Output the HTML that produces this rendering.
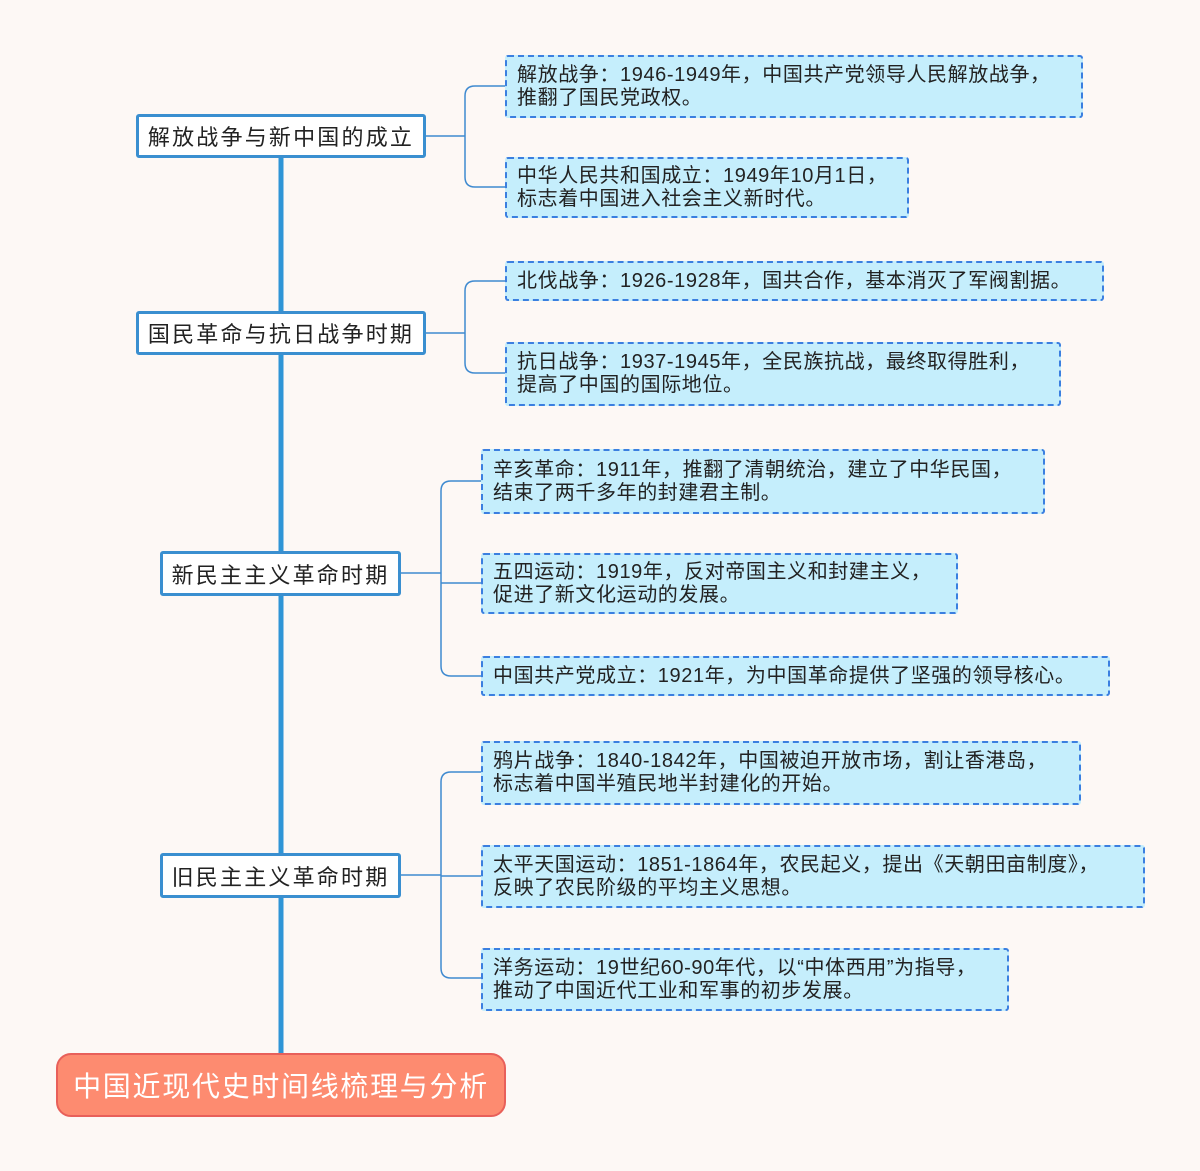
<!DOCTYPE html>
<html><head><meta charset="utf-8"><style>
body{margin:0;width:1200px;height:1171px;background:#fdf8f5;position:relative;overflow:hidden;font-family:"Liberation Sans","Noto Sans CJK SC",sans-serif}
.n{position:absolute;box-sizing:border-box;border:3px solid #3a8fd0;background:#fff;border-radius:3px;font-size:22px;color:#222;display:flex;align-items:center;justify-content:center;letter-spacing:2.2px}
.l{position:absolute;box-sizing:border-box;border:2px dashed #3b7fe0;background:#c5eefc;border-radius:3px;font-size:20px;letter-spacing:0.6px;color:#222;line-height:23px;padding:0 0 0 10px;display:flex;flex-direction:column;justify-content:center;white-space:nowrap}
.r{position:absolute;left:56px;top:1053px;width:450px;height:64px;box-sizing:border-box;background:#fd8b70;border:2px solid #e8605a;border-radius:15px;color:#fff;font-size:28px;letter-spacing:1.7px;display:flex;align-items:center;justify-content:center}
</style></head><body>
<svg width="1200" height="1171" style="position:absolute;left:0;top:0">
<line x1="281" y1="157" x2="281" y2="1053" stroke="#2f95d6" stroke-width="5"/>
<g fill="none" stroke="#3f8ad0" stroke-width="1.5">
<path d="M425 136H465M505 86H475Q465 86 465 96V177Q465 187 475 187H505"/>
<path d="M425 333H465M505 281H475Q465 281 465 291V363Q465 373 475 373H505"/>
<path d="M400 573H441M481 481H451Q441 481 441 491V666Q441 676 451 676H481M441 583H481"/>
<path d="M400 875H441M481 772H451Q441 772 441 782V968Q441 978 451 978H481M441 876H481"/>
</g></svg>
<div class="n" style="left:136px;top:114px;width:290px;height:44px">解放战争与新中国的成立</div>
<div class="n" style="left:136px;top:311px;width:290px;height:44px">国民革命与抗日战争时期</div>
<div class="n" style="left:160px;top:551px;width:241px;height:45px">新民主主义革命时期</div>
<div class="n" style="left:160px;top:853px;width:241px;height:45px">旧民主主义革命时期</div>
<div class="r">中国近现代史时间线梳理与分析</div>
<div class="l" style="left:505px;top:55px;width:578px;height:63px"><div>解放战争：1946-1949年，中国共产党领导人民解放战争，</div><div>推翻了国民党政权。</div></div>
<div class="l" style="left:505px;top:157px;width:404px;height:61px"><div>中华人民共和国成立：1949年10月1日，</div><div>标志着中国进入社会主义新时代。</div></div>
<div class="l" style="left:505px;top:261px;width:599px;height:40px"><div>北伐战争：1926-1928年，国共合作，基本消灭了军阀割据。</div></div>
<div class="l" style="left:505px;top:342px;width:556px;height:64px"><div>抗日战争：1937-1945年，全民族抗战，最终取得胜利，</div><div>提高了中国的国际地位。</div></div>
<div class="l" style="left:481px;top:449px;width:564px;height:65px"><div>辛亥革命：1911年，推翻了清朝统治，建立了中华民国，</div><div>结束了两千多年的封建君主制。</div></div>
<div class="l" style="left:481px;top:553px;width:477px;height:61px"><div>五四运动：1919年，反对帝国主义和封建主义，</div><div>促进了新文化运动的发展。</div></div>
<div class="l" style="left:481px;top:656px;width:629px;height:40px"><div>中国共产党成立：1921年，为中国革命提供了坚强的领导核心。</div></div>
<div class="l" style="left:481px;top:741px;width:600px;height:64px"><div>鸦片战争：1840-1842年，中国被迫开放市场，割让香港岛，</div><div>标志着中国半殖民地半封建化的开始。</div></div>
<div class="l" style="left:481px;top:845px;width:664px;height:63px"><div>太平天国运动：1851-1864年，农民起义，提出《天朝田亩制度》，</div><div>反映了农民阶级的平均主义思想。</div></div>
<div class="l" style="left:481px;top:948px;width:528px;height:63px"><div>洋务运动：19世纪60-90年代，以“中体西用”为指导，</div><div>推动了中国近代工业和军事的初步发展。</div></div>
</body></html>
